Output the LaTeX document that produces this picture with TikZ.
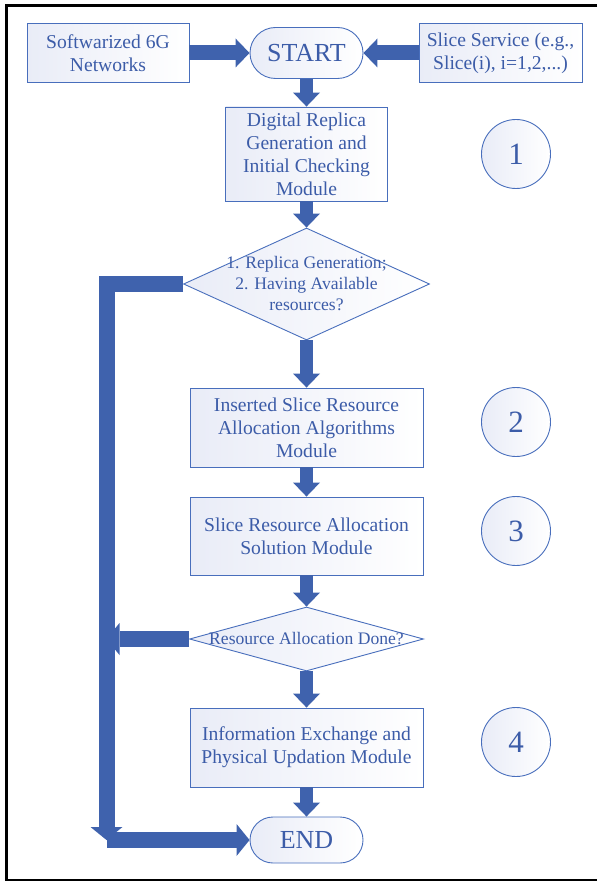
\documentclass[tikz,border=0pt]{standalone}
\usepackage{fontspec}
\setmainfont{Liberation Serif}
\usetikzlibrary{arrows.meta,shapes.geometric,shapes.misc}

\definecolor{flowblue}{RGB}{63,98,173}
\definecolor{textblue}{RGB}{60,92,168}
\definecolor{lineblue}{RGB}{72,110,188}
\definecolor{lavender}{RGB}{233,236,247}

\tikzset{
    modulebox/.style={rectangle, draw=lineblue, line width=0.9pt, left color=lavender, right color=white,
        text=textblue, align=center, inner sep=0pt, font=\fontsize{19.6}{23}\selectfont},
    terminal/.style={rounded rectangle, draw=lineblue, line width=0.9pt, left color=lavender, right color=white,
        text=textblue, inner sep=0pt, minimum width=113pt, font=\fontsize{26}{30}\selectfont},
    decision/.style={diamond, draw=lineblue, line width=0.9pt, left color=lavender, right color=white, inner sep=0pt},
    decisiontext/.style={text=textblue, align=center, inner sep=0pt, font=\fontsize{17.6}{21}\selectfont},
    stepcircle/.style={circle, draw=lineblue, line width=0.9pt, left color=lavender, right color=white,
        text=textblue, inner sep=0pt, minimum size=69pt, font=\fontsize{31}{31}\selectfont},
    downarrow/.style={draw=flowblue, line width=13pt, -{Triangle[width=27pt,length=14pt,line width=0pt]}},
    inarrow/.style={draw=flowblue, line width=15pt, -{Triangle[width=29pt,length=14pt,line width=0pt]}},
    bigarrow/.style={draw=flowblue, line width=16pt, -{Triangle[width=32pt,length=13pt,line width=0pt]}}
}

\begin{document}
\begin{tikzpicture}[x=1pt, y=-1pt]
    \useasboundingbox (0,0) rectangle (597,882);
    \draw[line width=2.5pt, line join=miter] (597,5.5) -- (6.5,5.5) -- (6.5,880) -- (597,880);

    % Start and inputs
    \node[modulebox, minimum width=162pt, minimum height=59pt] (soft) at (108,53) {Softwarized 6G\\Networks};
    \node[modulebox, minimum width=163pt, minimum height=59pt] (slice) at (500.5,53) {Slice Service (e.g.,\\Slice(i), i=1,2,...)};
    \node[terminal, minimum height=51pt] (start) at (306.5,53) {START};

    % Modules and checks
    \node[modulebox, minimum width=162pt, minimum height=94pt] (replica) at (306.5,154) {Digital Replica\\Generation and\\Initial Checking\\Module};
    \node[decision, minimum width=246pt, minimum height=112pt] (check1) at (306.5,284) {};
    \node[decisiontext] (check1text) at (check1) {1. Replica Generation;\\2. Having Available\\resources?};
    \node[modulebox, minimum width=233pt, minimum height=79pt] (alloc) at (306.5,427.5) {Inserted Slice Resource\\Allocation Algorithms\\Module};
    \node[modulebox, minimum width=233pt, minimum height=78pt] (solution) at (306.5,536) {Slice Resource Allocation\\Solution Module};
    \node[decision, minimum width=234pt, minimum height=64pt] (check2) at (306.5,639) {};
    \node[decisiontext] (check2text) at (check2) {Resource Allocation Done?};
    \node[modulebox, minimum width=233pt, minimum height=79pt] (update) at (306.5,747.5) {Information Exchange and\\Physical Updation Module};
    \node[terminal, minimum height=46pt] (finish) at (306.5,840) {END};

    % Step numbers
    \node[stepcircle] (num1) at (516,154) {1};
    \node[stepcircle] (num2) at (516,422) {2};
    \node[stepcircle] (num3) at (516,531) {3};
    \node[stepcircle] (num4) at (516,742) {4};

    % Main flow
    \draw[inarrow] (soft.east) -- (start.west);
    \draw[inarrow] (slice.west) -- (start.east);
    \draw[downarrow] (start.south) -- (replica.north);
    \draw[downarrow] (replica.south) -- (check1.north);
    \draw[downarrow] (check1.south) -- (alloc.north);
    \draw[downarrow] (alloc.south) -- (solution.north);
    \draw[downarrow] (solution.south) -- (check2.north);
    \draw[downarrow] (check2.south) -- (update.north);
    \draw[downarrow] (update.south) -- (finish.north);

    % Bypass on the left
    \coordinate (loopcorner) at (106.5,284);
    \coordinate (loopbottom) at (106.5,840);
    \draw[bigarrow, line join=miter] (check1.west) -- (loopcorner) -- (loopbottom);
    \draw[bigarrow] (check2.west) -- (check2.west -| loopcorner);
    \draw[bigarrow] (loopbottom) -- (finish.west);
\end{tikzpicture}
\end{document}
